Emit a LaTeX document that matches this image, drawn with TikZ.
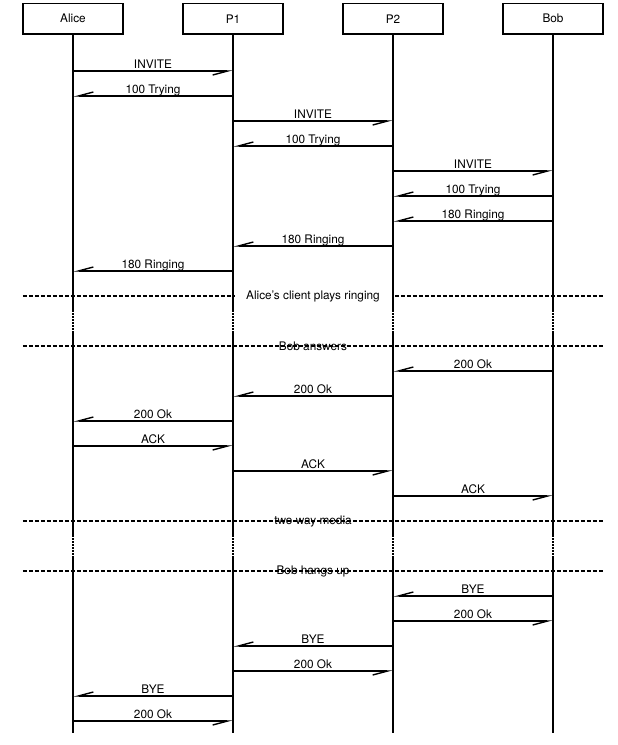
\documentclass[tikz,border=0pt]{standalone}
\usepackage{fontspec}
\setmainfont{TeX Gyre Heros}
\usetikzlibrary{arrows.meta}

\begin{document}
\begin{tikzpicture}[x=1pt, y=-1pt, font=\fontsize{11.8}{14}\selectfont,
  actor/.style={draw, line width=1.6pt, minimum width=100.5pt, minimum height=30.7pt, inner sep=0pt, outer sep=0pt},
  life/.style={line width=1.9pt},
  msg/.style={line width=1.1pt, -{Straight Barb[harpoon,swap,length=15pt,width=8pt,line width=1.4pt]}},
  sep/.style={line width=1.3pt, dash pattern=on 4.2pt off 1.8pt},
  lbl/.style={midway, anchor=base, yshift=3pt, inner sep=0pt}]
				\useasboundingbox (0,0) rectangle (618,745);
				\node[actor](alice) at (73,18.7){Alice};
				\node[actor](p1) at (233,18.7){P1};
				\node[actor](p2) at (393,18.7){P2};
				\node[actor](bob) at (553,18.7){Bob};
				% separators
				\draw[sep](alice.west |- 0,296) -- node[fill=white, minimum width=157pt, inner sep=2pt]{Alice's client plays ringing} (bob.east |- 0,296);
				\draw[sep](alice.west |- 0,346) -- node[inner sep=0pt]{Bob answers} (bob.east |- 0,346);
				\draw[sep](alice.west |- 0,521) -- node[inner sep=0pt]{two way media} (bob.east |- 0,521);
				\draw[sep](alice.west |- 0,571) -- node[inner sep=0pt]{Bob hangs up} (bob.east |- 0,571);
				% lifelines
				\foreach \who in {alice, p1, p2, bob}{
					\draw[life](\who.south) -- (\who |- 0,310);
					\draw[life, dash pattern=on 1.6pt off 1.4pt](\who |- 0,310) -- (\who |- 0,333);
					\draw[life](\who |- 0,333) -- (\who |- 0,535);
					\draw[life, dash pattern=on 1.6pt off 1.4pt](\who |- 0,535) -- (\who |- 0,558);
					\draw[life](\who |- 0,558) -- (\who |- 0,733);
				}
				% messages
				\foreach \from/\to/\y/\txt in {alice/p1/71/INVITE, p1/alice/96/100 Trying,
					p1/p2/121/INVITE, p2/p1/146/100 Trying, p2/bob/171/INVITE,
					bob/p2/196/100 Trying, bob/p2/221/180 Ringing, p2/p1/246/180 Ringing,
					p1/alice/271/180 Ringing, bob/p2/371/200 Ok, p2/p1/396/200 Ok,
					p1/alice/421/200 Ok, alice/p1/446/ACK, p1/p2/471/ACK, p2/bob/496/ACK,
					bob/p2/596/BYE, p2/bob/621/200 Ok, p2/p1/646/BYE, p1/p2/671/200 Ok,
					p1/alice/696/BYE, alice/p1/721/200 Ok}{
					\draw[msg](\from |- 0,\y) -- node[lbl]{\txt} (\to |- 0,\y);
				}
			\end{tikzpicture}
\end{document}
